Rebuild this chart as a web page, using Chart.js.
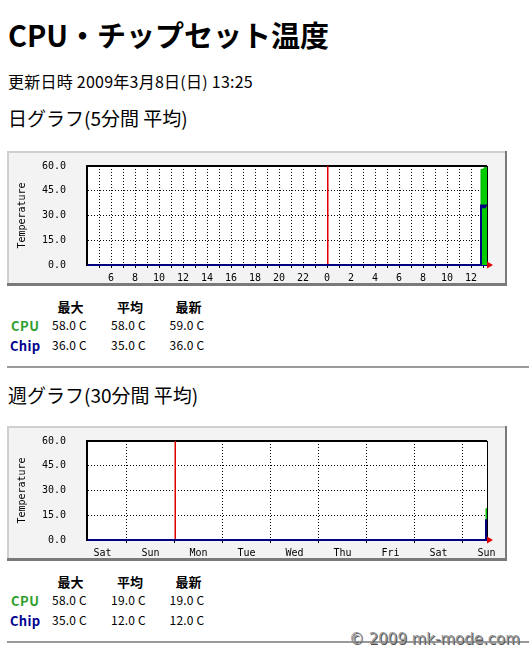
<!DOCTYPE html>
<html><head><meta charset="utf-8">
<script src="https://cdn.jsdelivr.net/npm/chart.js@4/dist/chart.umd.min.js"></script>
<style>
html,body{margin:0;padding:0;background:#fff;width:529px;height:651px;overflow:hidden;}
.t{position:absolute;white-space:nowrap;font-family:"Noto Sans CJK JP","Noto Sans",sans-serif;color:#000;line-height:1;}
.h{font-weight:bold;font-size:13px;}
.v{font-size:12px;letter-spacing:0.2px;}
.c{transform:translateX(-50%);}
.cpu{color:#2e9e2e;font-weight:bold;font-size:13px;letter-spacing:0.5px;}
.chip{color:#000090;font-weight:bold;font-size:13px;letter-spacing:0.3px;}
.hr{position:absolute;left:7px;width:522px;height:2px;background:#9a9a9a;}
canvas{position:absolute;left:7px;}
#wm{position:absolute;left:349px;top:632px;font-family:"DejaVu Sans",sans-serif;font-size:15px;color:#9a9a9a;text-shadow:1px 1px 0 #505050;white-space:nowrap;line-height:1;}
</style></head>
<body>
<div class="t" style="left:8px;top:20px;font-size:29px;font-weight:bold;">CPU・チップセット温度</div>
<div class="t" style="left:8px;top:73px;font-size:16px;letter-spacing:0.25px;">更新日時 2009年3月8日(日) 13:25</div>
<div class="t" style="left:8px;top:108px;font-size:19px;">日グラフ(5分間 平均)</div>
<canvas id="day" width="500" height="135" style="top:151px"></canvas>
<div id="tbl1"></div>
<div class="hr" style="top:366px"></div>
<div class="t" style="left:8px;top:385px;font-size:19px;">週グラフ(30分間 平均)</div>
<canvas id="week" width="500" height="135" style="top:426px"></canvas>
<div id="tbl2"></div>
<div class="hr" style="top:641px"></div>
<div id="wm">© 2009 mk-mode.com</div>
<script>
// ---- Data ----
// Day graph: x in hours since 2009-03-07 00:00 (5-minute averages)
const dayStart = 4.0, dayEnd = 37.3333;
const dayTime = [4.0, 36.8333, 36.9167, 37.0, 37.0833, 37.1667, 37.25, 37.3333];
const dayCpu  = [0,   0,       58,      58,   58,      59,      59,    59];
const dayChip = [0,   0,       36,      36,   35,      35,      36,    36];
const dayTicks = [5,6,7,8,9,10,11,12,13,14,15,16,17,18,19,20,21,22,23,24,25,26,27,28,29,30,31,32,33,34,35,36,37];
const dayTickLabels = ['','6','','8','','10','','12','','14','','16','','18','','20','','22','','0','','2','','4','','6','','8','','10','','12',''];
const dayRedLine = 24;

// Week graph: x in hours since 2009-02-28 (Sat) 00:00 (30-minute averages)
const weekStart = 4.25, weekEnd = 204.25;
const weekTime = [4.25, 203.75, 204.25];
const weekCpu  = [0, 0, 19];
const weekChip = [0, 0, 12];
const weekTicks = [12,24,36,48,60,72,84,96,108,120,132,144,156,168,180,192,204];
const weekTickLabels = ['Sat','','Sun','','Mon','','Tue','','Wed','','Thu','','Fri','','Sat','','Sun'];
const weekRedLine = 48;

const yTicks = [0, 15, 30, 45, 60];
const statHeaders = ['最大', '平均', '最新'];
const seriesNames = ['CPU', 'Chip'];
const dayStats  = [['58.0 C','58.0 C','59.0 C'], ['36.0 C','35.0 C','36.0 C']];
const weekStats = [['58.0 C','19.0 C','19.0 C'], ['35.0 C','12.0 C','12.0 C']];

// ---- Tables ----
function buildTable(el, top, stats){
  const hx = [70.5, 130, 188.5];
  const vx = [69.5, 128.5, 187];
  let html = '';
  statHeaders.forEach((h,i)=>{ html += `<div class="t h c" style="left:${hx[i]}px;top:${top}px">${h}</div>`; });
  seriesNames.forEach((n,r)=>{
    const y = top + 19 + r*20;
    html += `<div class="t ${r===0?'cpu':'chip'}" style="left:${r===0?11:10}px;top:${y}px">${n}</div>`;
    stats[r].forEach((v,i)=>{ html += `<div class="t v c" style="left:${vx[i]}px;top:${y+0.5}px">${v}</div>`; });
  });
  document.getElementById(el).innerHTML = html;
}
buildTable('tbl1', 299.5, dayStats);
buildTable('tbl2', 574.5, weekStats);

// ---- Charts ----
const MONO = {family: '"DejaVu Sans Mono", monospace', size: 10};
const CLEAR = 'rgba(0,0,0,0)';
const framePlugin = {
  id: 'frame',
  beforeDraw(chart){
    const {ctx, width: w, height: h, chartArea: a} = chart;
    ctx.save();
    ctx.fillStyle = '#f3f3f3'; ctx.fillRect(0,0,w,h);
    ctx.fillStyle = '#cfcfcf'; ctx.fillRect(0,0,w,2); ctx.fillRect(0,0,2,h);
    ctx.fillStyle = '#7a7a7a'; ctx.fillRect(w-2,0,2,h); ctx.fillRect(0,h-3,w,3);
    ctx.fillStyle = '#ffffff'; ctx.fillRect(a.left, a.top, a.right-a.left, a.bottom-a.top);
    ctx.restore();
  },
  beforeDatasetsDraw(chart){
    // red marker line (midnight / week start) placed through the x scale
    const {ctx, chartArea: a} = chart;
    const x = chart.scales.x.getPixelForValue(chart.options.plugins.frame.redLine) + 0.75;
    ctx.save();
    ctx.strokeStyle = '#e00000'; ctx.lineWidth = 1.5; ctx.setLineDash([]);
    ctx.beginPath(); ctx.moveTo(x, a.top); ctx.lineTo(x, a.bottom); ctx.stroke();
    ctx.restore();
  },
  afterDraw(chart){
    const {ctx, chartArea: a} = chart;
    ctx.save();
    ctx.fillStyle = '#e00000';
    ctx.beginPath(); ctx.moveTo(a.right, a.bottom-3.5); ctx.lineTo(a.right+6, a.bottom); ctx.lineTo(a.right, a.bottom+3.5); ctx.closePath(); ctx.fill();
    ctx.restore();
  }
};

function makeChart(id, start, end, time, cpu, chip, ticks, labels, redLine, gridAll){
  const hideGrid = (i) => (!gridAll && labels[i] !== '') || ticks[i] === redLine;
  return new Chart(document.getElementById(id), {
    type: 'line',
    data: {
      datasets: [
        {label: 'Chip', data: time.map((t,i)=>({x:t, y:chip[i]})), borderColor: '#000080', borderWidth: 2,
         pointRadius: 0, stepped: 'after', fill: false, order: 0},
        {label: 'CPU', data: time.map((t,i)=>({x:t, y:cpu[i]})), borderColor: '#00b000', backgroundColor: '#00cc00',
         borderWidth: 1, pointRadius: 0, stepped: 'after', fill: 'origin', order: 1}
      ]
    },
    options: {
      responsive: false, animation: false, devicePixelRatio: 1,
      layout: {padding: 0, autoPadding: false},
      plugins: {legend: {display: false}, tooltip: {enabled: false}, frame: {redLine: redLine}},
      scales: {
        x: {
          type: 'linear', min: start, max: end,
          afterBuildTicks: (s) => { s.ticks = ticks.map(v => ({value: v})); },
          afterFit: (s) => { s.height = 21; },
          ticks: {autoSkip: false, maxRotation: 0, padding: 4, color: '#000', font: MONO,
                  callback: (v, i) => labels[i]},
          grid: {
            color: (c) => (c.tick && hideGrid(c.index)) ? CLEAR : '#000',
            lineWidth: 1, drawTicks: true, tickLength: 3,
            tickColor: (c) => (c.tick && !gridAll && labels[c.index] !== '') ? CLEAR : '#000',
            tickBorderDash: []
          },
          border: {display: true, color: '#000080', width: 2, dash: [1,2]}
        },
        xTop: {
          type: 'linear', position: 'top', min: 0, max: 1,
          ticks: {display: false}, grid: {display: false, drawTicks: false}, border: {display: false},
          afterFit: (s) => { s.height = 15; }
        },
        y: {
          min: 0, max: 60,
          afterBuildTicks: (s) => { s.ticks = yTicks.map(v => ({value: v})); },
          afterFit: (s) => { s.width = 80; },
          ticks: {padding: 1, color: '#000', font: MONO, callback: (v) => Number(v).toFixed(1)},
          title: {display: true, text: 'Temperature', color: '#000', font: MONO, padding: {top: 9, bottom: 0}},
          grid: {
            color: (c) => (c.tick && c.tick.value === 0) ? CLEAR : '#000',
            lineWidth: (c) => (c.tick && c.tick.value === 60) ? 2 : 1,
            drawTicks: true, tickLength: 20, tickColor: CLEAR
          },
          border: {display: true, color: '#000', width: 2,
                   dash: (c) => (c.tick && c.tick.value === 60) ? [] : [1,2]}
        },
        yRight: {
          type: 'linear', position: 'right', min: 0, max: 1,
          ticks: {display: false}, grid: {display: false, drawTicks: false},
          border: {display: true, color: '#000', width: 1},
          afterFit: (s) => { s.width = 20; }
        }
      }
    },
    plugins: [framePlugin]
  });
}
makeChart('day', dayStart, dayEnd, dayTime, dayCpu, dayChip, dayTicks, dayTickLabels, dayRedLine, true);
makeChart('week', weekStart, weekEnd, weekTime, weekCpu, weekChip, weekTicks, weekTickLabels, weekRedLine, false);
</script>
</body></html>
